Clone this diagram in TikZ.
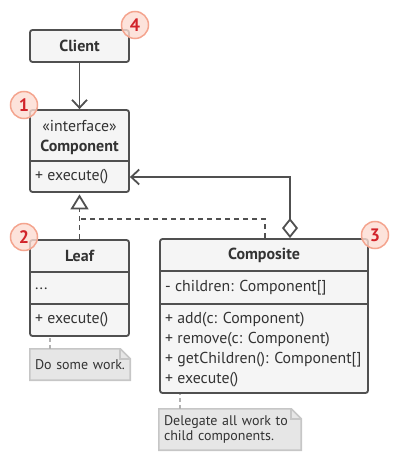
\documentclass[tikz,border=0pt]{standalone}
\usepackage{fontspec}
\setmainfont{PT Sans}
\usetikzlibrary{arrows.meta}
\definecolor{boxline}{HTML}{505050}
\definecolor{boxfill}{HTML}{F5F5F5}
\definecolor{inktext}{HTML}{333333}
\definecolor{notefill}{HTML}{E6E6E6}
\definecolor{noteline}{HTML}{C6C6C6}
\definecolor{badgefill}{HTML}{FCDCD2}
\definecolor{badgeline}{HTML}{F4A48E}
\definecolor{badgetext}{HTML}{D1232A}
\tikzset{
	umlbox/.style={draw=boxline,fill=boxfill,line width=1.8pt,rounded corners=2.5pt,inner sep=0pt},
	title/.style={font=\fontsize{16}{18}\selectfont\bfseries,text=inktext,inner sep=0pt},
	member/.style={font=\fontsize{15.8}{18}\selectfont,text=inktext,inner sep=0pt,anchor=west},
	divider/.style={draw=boxline,line width=1.8pt},
	badge/.style={circle,fill=badgefill,fill opacity=0.8,text opacity=1,draw=badgeline,line width=1.5pt,
		minimum size=27pt,inner sep=0pt,font=\fontsize{18}{18}\selectfont\bfseries,text=badgetext},
	note/.style={fill=notefill,inner xsep=5pt,inner ysep=0pt,align=left,
		font=\fontsize{14}{15}\selectfont,text=inktext},
	notebox/.style={draw=noteline,line width=1.6pt,line join=miter},
	notelink/.style={draw=noteline!90!black,line width=1.6pt,dash pattern=on 4pt off 3pt},
	assoc/.style={draw=boxline,line width=1.8pt,-{Straight Barb[length=8pt,width=15pt,line width=1.8pt]}},
	realize/.style={draw=boxline,line width=1.8pt,dash pattern=on 5pt off 4pt},
	inherit/.style={realize,-{Triangle[length=15pt,width=18pt,fill=white,line width=1.8pt]},shorten >=1.5pt},
	aggr/.style={assoc,{Diamond[length=20pt,width=16pt,fill=white,line width=1.8pt]}-{Straight Barb[length=8pt,width=15pt,line width=1.8pt]}}
}
\begin{document}
\begin{tikzpicture}[x=1pt,y=-1pt]
	\useasboundingbox (0,0) rectangle (400,470);
	
	% client
	\node[umlbox,minimum width=99pt,minimum height=32pt] (client) at (79.5,46) {};
	\node[title] (clientname) at (client) {Client};
	
	% component
	\node[umlbox,minimum width=99pt,minimum height=82pt] (comp) at (79.5,151) {};
	\node[member,anchor=center] (cstereo) at (79.5,126) {«interface»};
	\node[title] (cname) at (79.5,147) {Component};
	\draw[divider] (comp.west |- 0,161) -- (comp.east |- 0,161);
	\node[member] (cexec) at (35,177) {+ execute()};
	
	% leaf
	\node[umlbox,minimum width=99pt,minimum height=96pt] (leaf) at (79.5,288) {};
	\node[title] (lname) at (79.5,256) {Leaf};
	\draw[divider] (leaf.west |- 0,272) -- (leaf.east |- 0,272);
	\node[member] (lfields) at (35,289) {...};
	\draw[divider] (leaf.west |- 0,304) -- (leaf.east |- 0,304);
	\node[member] (lexec) at (35,320) {+ execute()};
	
	% composite
	\node[umlbox,minimum width=208pt,minimum height=154pt] (compo) at (264,316) {};
	\node[title] (oname) at (264,255) {Composite};
	\draw[divider] (compo.west |- 0,271) -- (compo.east |- 0,271);
	\node[member] (ochildren) at (165,288) {- children: Component[]};
	\draw[divider] (compo.west |- 0,304) -- (compo.east |- 0,304);
	\node[member] (oadd) at (165,320) {+ add(c: Component)};
	\node[member] (oremove) at (165,340) {+ remove(c: Component)};
	\node[member] (oget) at (165,360) {+ getChildren(): Component[]};
	\node[member] (oexec) at (165,380) {+ execute()};
	
	% connectors
	\draw[assoc] (client) -- (comp);
	\coordinate (joint) at (leaf.north |- 0,219);
	\draw[realize] ([xshift=1pt]compo.north) |- (joint);
	\draw[inherit] (leaf.north) -- (comp.south);
	\draw[aggr] ([xshift=26pt]compo.north) |- (comp.east |- cexec);
	
	% notes
	\node[note,text width=90pt,minimum height=31pt] (work) at (80,364.5) {Do some work.};
	\fill[white] ([xshift=-10pt]work.north east) -- (work.north east) -- ([yshift=-10pt]work.north east) -- cycle;
	\draw[notebox] (work.south west) -- (work.north west) -- ([xshift=-10pt]work.north east)
		-- ([yshift=-10pt]work.north east) -- (work.south east) -- cycle;
	\draw[notebox] ([xshift=-10pt]work.north east) |- ([yshift=-10pt]work.north east);
	\draw[notelink] ([xshift=20pt]work.north west) -- ([xshift=20pt]work.north west |- leaf.south);
	
	\node[note,text width=132pt,minimum height=41pt] (delegate) at (230,429.5) {Delegate all work to\\child components.};
	\fill[white] ([xshift=-10pt]delegate.north east) -- (delegate.north east) -- ([yshift=-10pt]delegate.north east) -- cycle;
	\draw[notebox] (delegate.south west) -- (delegate.north west) -- ([xshift=-10pt]delegate.north east)
		-- ([yshift=-10pt]delegate.north east) -- (delegate.south east) -- cycle;
	\draw[notebox] ([xshift=-10pt]delegate.north east) |- ([yshift=-10pt]delegate.north east);
	\draw[notelink] ([xshift=21pt]delegate.north west) -- ([xshift=21pt]delegate.north west |- compo.south);
	
	% badges
	\node[badge] (b4) at (135,25) {4};
	\node[badge] (b1) at (24,105) {1};
	\node[badge] (b2) at (24,237) {2};
	\node[badge] (b3) at (375,235) {3};
\end{tikzpicture}
\end{document}
